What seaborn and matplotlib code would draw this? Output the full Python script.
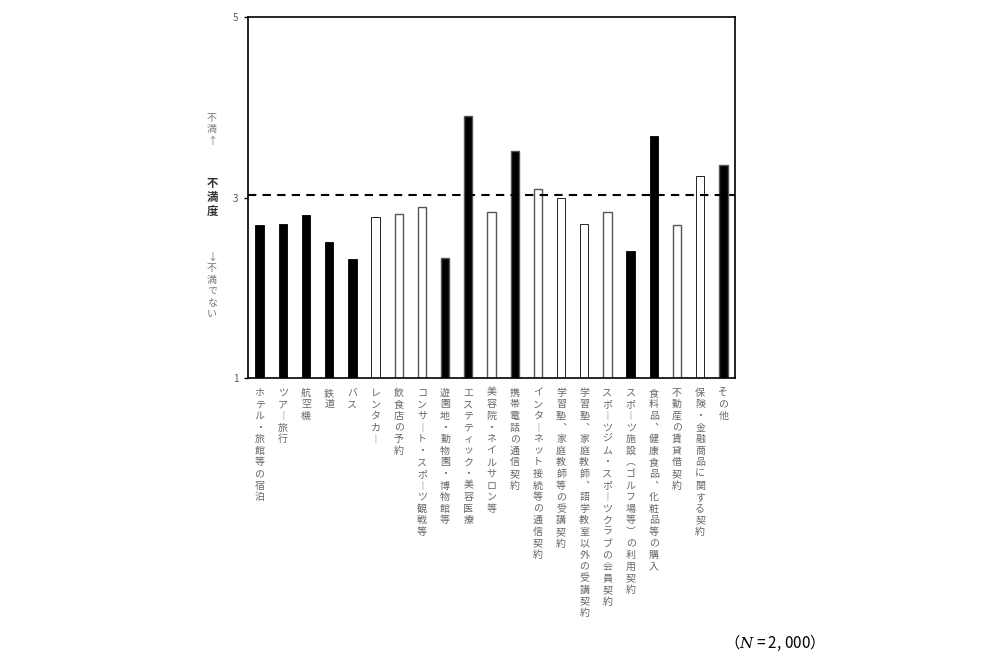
import matplotlib
matplotlib.use("Agg")
import matplotlib.pyplot as plt
import seaborn as sns
import pandas as pd

categories = [
    "ホテル・旅館等の宿泊", "ツアー旅行", "航空機", "鉄道", "バス", "レンタカー",
    "飲食店の予約", "コンサート・スポーツ観戦等", "遊園地・動物園・博物館等",
    "エステティック・美容医療", "美容院・ネイルサロン等", "携帯電話の通信契約",
    "インターネット接続等の通信契約", "学習塾、家庭教師等の受講契約",
    "学習塾、家庭教師、語学教室以外の受講契約", "スポーツジム・スポーツクラブの会員契約",
    "スポーツ施設（ゴルフ場等）の利用契約", "食料品、健康食品、化粧品等の購入",
    "不動産の賃貸借契約", "保険・金融商品に関する契約", "その他",
]
values = [2.70, 2.71, 2.81, 2.51, 2.32, 2.78, 2.82, 2.89, 2.33, 3.90, 2.84,
          3.52, 3.09, 3.00, 2.71, 2.84, 2.41, 3.68, 2.70, 3.24, 3.36]
groups = ["黒", "黒", "黒", "黒", "黒", "白", "白", "白", "黒", "黒", "白",
          "黒", "白", "白", "白", "白", "黒", "黒", "白", "白", "黒"]
average = 3.03
y_ticks = [1, 3, 5]
n_note = "2, 000"

sns.set_theme(style="white")
plt.rcParams["font.family"] = ["Noto Sans CJK JP", "DejaVu Sans"]

df = pd.DataFrame({"cat": categories, "val": values, "grp": groups})

fig = plt.figure(figsize=(10, 6.7), dpi=100)
ax = fig.add_axes([0.248, 0.4358, 0.487, 0.5388])

sns.barplot(data=df, x="cat", y="val", hue="grp", dodge=False,
            palette={"黒": "black", "白": "white"}, width=0.36,
            legend=False, ax=ax, saturation=1)
for patch, g in zip(ax.patches, groups):
    if g == "白":
        patch.set_edgecolor("#555555")
        patch.set_linewidth(1.0)
    else:
        patch.set_edgecolor("black")
        patch.set_linewidth(0.6)

ax.axhline(average, color="black", linestyle=(0, (4, 3)), linewidth=1.5, zorder=5)

ax.set_ylim(1, 5)
ax.set_xlim(-0.5, len(categories) - 0.5)
ax.set_yticks(y_ticks)
ax.set_yticklabels([str(t) for t in y_ticks], fontsize=7, color="#555555")
ax.tick_params(axis="y", length=3, width=1, color="black", pad=4, left=True)

vmap = {"ー": "︱", "（": "︵", "）": "︶", "、": "︑"}
def vert(s):
    return "\n".join(vmap.get(c, c) for c in s)

ax.set_xticks(range(len(categories)))
ax.set_xticklabels([vert(c) for c in categories], fontsize=7.2, color="#666666",
                   va="top", linespacing=1.2)
ax.tick_params(axis="x", length=0, pad=7)
ax.set_xlabel("")
ax.set_ylabel("")

for sp in ax.spines.values():
    sp.set_color("black")
    sp.set_linewidth(1.2)
    sp.set_visible(True)

fig.text(0.212, 0.807, vert("不満↑"), fontsize=7.2, color="#777777",
         ha="center", va="center", linespacing=1.18)
fig.text(0.212, 0.705, vert("不満度"), fontsize=8.2, color="#333333",
         fontweight="bold", ha="center", va="center", linespacing=1.1)
fig.text(0.212, 0.574, vert("↓不満でない"), fontsize=7.2, color="#777777",
         ha="center", va="center", linespacing=1.18)

plt.rcParams["mathtext.fontset"] = "dejavuserif"
fig.text(0.77, 0.04, "（$N$ = " + n_note + "）", fontsize=11, color="black",
         ha="center", va="center", family=["Noto Sans CJK JP", "DejaVu Serif"])

fig.savefig("out.png", dpi=100, facecolor="white")
